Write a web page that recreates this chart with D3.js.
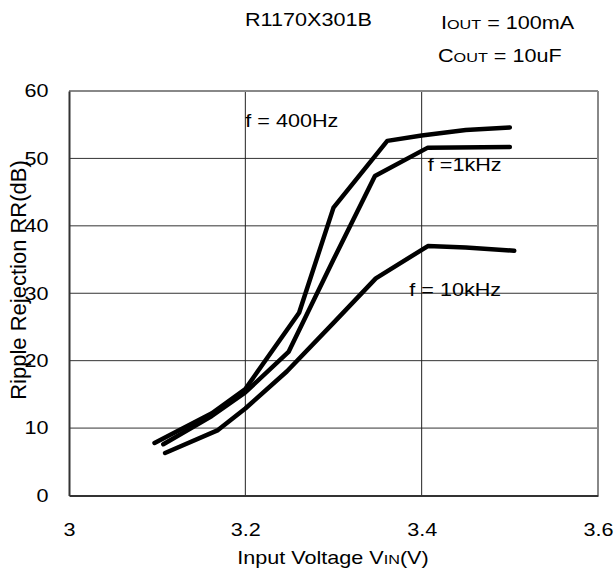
<!DOCTYPE html>
<html>
<head>
<meta charset="utf-8">
<script src="https://cdn.jsdelivr.net/npm/d3@7"></script>
<style>
  body { margin: 0; background: #fff; }
  svg { font-family: "Liberation Sans", Arial, sans-serif; }
</style>
</head>
<body>
<div id="chart"></div>
<script>
// Ripple rejection vs input voltage (R1170X301B)
const xTicks = [3, 3.2, 3.4, 3.6];
const yTicks = [0, 10, 20, 30, 40, 50, 60];

const vin400 = [3.097, 3.162, 3.2, 3.261, 3.300, 3.361, 3.4, 3.45, 3.5];
const rr400 = [7.8, 12.2, 15.8, 27.1, 42.7, 52.6, 53.4, 54.2, 54.6];

const vin1k = [3.107, 3.162, 3.2, 3.249, 3.3, 3.347, 3.407, 3.5];
const rr1k = [7.6, 11.8, 15.3, 21.3, 35.0, 47.4, 51.6, 51.7];

const vin10k = [3.109, 3.169, 3.2, 3.247, 3.3, 3.348, 3.407, 3.45, 3.505];
const rr10k = [6.3, 9.7, 12.9, 18.4, 25.6, 32.2, 37.0, 36.8, 36.3];

const width = 615, height = 571;
const margin = { top: 91, right: 17, bottom: 76, left: 69 };
const FS = 18;      // font size
const SX = 1.2;     // the source text is drawn a bit wide

const svg = d3.select("#chart").append("svg")
  .attr("width", width)
  .attr("height", height);

const x = d3.scaleLinear()
  .domain([3, 3.6])
  .range([margin.left, width - margin.right]);

const y = d3.scaleLinear()
  .domain([0, 60])
  .range([height - margin.bottom + 0.5, margin.top]);

// ── Grid ──
svg.append("g")
  .selectAll("line")
  .data(yTicks.filter((d) => d > 0 && d < 60))
  .join("line")
  .attr("x1", x(3)).attr("x2", x(3.6))
  .attr("y1", (d) => y(d)).attr("y2", (d) => y(d))
  .attr("stroke", "#333").attr("stroke-width", 1);

svg.append("g")
  .selectAll("line")
  .data(xTicks.filter((d) => d > 3 && d < 3.6))
  .join("line")
  .attr("x1", (d) => x(d)).attr("x2", (d) => x(d))
  .attr("y1", y(0)).attr("y2", y(60))
  .attr("stroke", "#222").attr("stroke-width", 1);

// frame: top/right grey, left/bottom dark
svg.append("line")
  .attr("x1", x(3)).attr("x2", x(3.6)).attr("y1", y(60)).attr("y2", y(60))
  .attr("stroke", "#888").attr("stroke-width", 2);
svg.append("line")
  .attr("x1", x(3.6)).attr("x2", x(3.6)).attr("y1", y(60)).attr("y2", y(0))
  .attr("stroke", "#888").attr("stroke-width", 2);

// ── Axes ──
const xAxis = svg.append("g")
  .attr("transform", `translate(0,${y(0)})`)
  .call(d3.axisBottom(x).tickValues(xTicks).tickSize(0).tickPadding(28)
    .tickFormat((d) => d3.format("")(+d.toFixed(1))));
xAxis.select(".domain").attr("stroke", "#333").attr("stroke-width", 2);
xAxis.selectAll("text")
  .attr("fill", "#000")
  .attr("font-size", FS + "px")
  .attr("font-family", "Liberation Sans, Arial, sans-serif")
  .attr("transform", `scale(${SX},1)`);

const yAxis = svg.append("g")
  .attr("transform", `translate(${x(3)},0)`)
  .call(d3.axisLeft(y).tickValues(yTicks).tickSize(0).tickPadding(17));
yAxis.select(".domain").attr("stroke", "#333").attr("stroke-width", 2);
yAxis.selectAll("text")
  .attr("fill", "#000")
  .attr("font-size", FS + "px")
  .attr("font-family", "Liberation Sans, Arial, sans-serif")
  .attr("transform", `scale(${SX},1)`);

// ── Curves ──
const line = d3.line()
  .x((d) => x(d[0]))
  .y((d) => y(d[1]));

[
  [vin400, rr400],
  [vin1k, rr1k],
  [vin10k, rr10k],
].forEach(([vs, rs]) => {
  svg.append("path")
    .datum(vs.map((v, i) => [v, rs[i]]))
    .attr("d", line)
    .attr("fill", "none")
    .attr("stroke", "#000")
    .attr("stroke-width", 4.5)
    .attr("stroke-linejoin", "round")
    .attr("stroke-linecap", "round");
});

// text helper: wide text placed at (px, py)
function wideText(px, py, anchor) {
  return svg.append("text")
    .attr("transform", `translate(${px},${py}) scale(${SX},1)`)
    .attr("text-anchor", anchor || "start")
    .attr("font-size", FS + "px")
    .attr("fill", "#000");
}

// ── Curve labels ──
const labels = [
  { text: "f = 400Hz", v: 3.200, db: 54.7 },
  { text: "f =1kHz", v: 3.407, db: 48.2 },
  { text: "f = 10kHz", v: 3.386, db: 29.6 },
];
labels.forEach((d) => wideText(x(d.v), y(d.db)).text(d.text));

// ── Title & conditions ──
wideText(245, 26).text("R1170X301B");

function smallCaps(px, py, big, small, rest) {
  const t = wideText(px, py);
  t.append("tspan").text(big);
  t.append("tspan").attr("font-size", (FS * 0.75) + "px").text(small);
  t.append("tspan").text(rest);
}
smallCaps(441, 28.5, "I", "OUT", " = 100mA");
smallCaps(438, 62, "C", "OUT", " = 10uF");

// ── Axis titles ──
const xt = wideText(333, 564, "middle");
xt.append("tspan").text("Input Voltage V");
xt.append("tspan").attr("font-size", (FS * 0.75) + "px").text("IN");
xt.append("tspan").text("(V)");

svg.append("text")
  .attr("transform", `translate(26,280) rotate(-90)`)
  .attr("text-anchor", "middle")
  .attr("font-size", "22px")
  .text("Ripple Rejection RR(dB)");
</script>
</body>
</html>
